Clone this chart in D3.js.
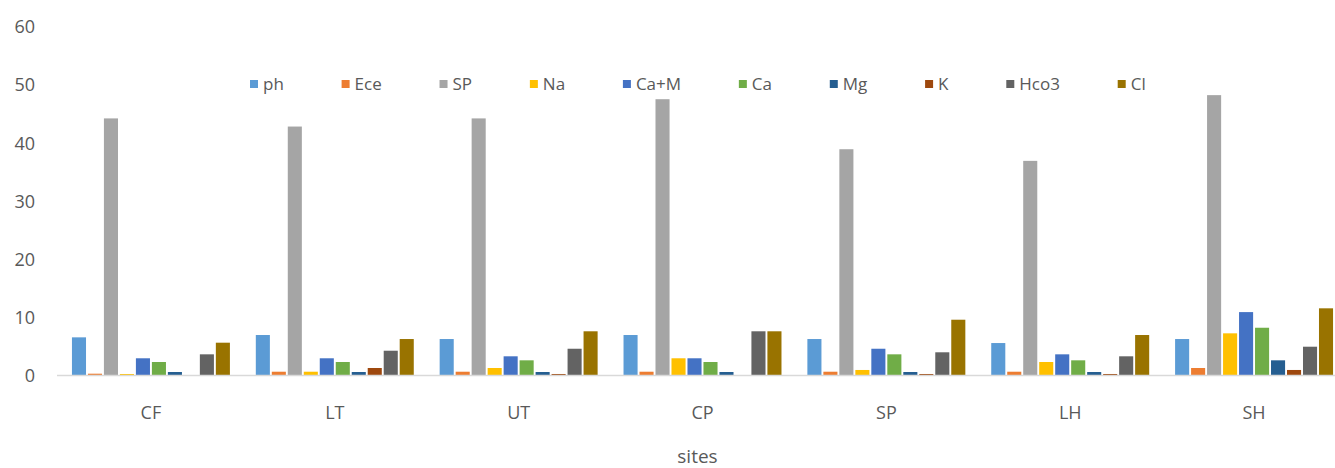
<!DOCTYPE html>
<html>
<head>
<meta charset="utf-8">
<script src="https://cdn.jsdelivr.net/npm/d3@7"></script>
<style>
  html, body { margin: 0; padding: 0; background: #fff; }
  svg { display: block; }
  text { font-family: "Open Sans", "Noto Sans", sans-serif; fill: #595959; }
</style>
</head>
<body>
<svg id="chart" width="1335" height="468"></svg>
<script>
const sites = ["CF", "LT", "UT", "CP", "SP", "LH", "SH"];
const seriesNames = ["ph", "Ece", "SP", "Na", "Ca+M", "Ca", "Mg", "K", "Hco3", "Cl"];
const seriesColors = ["#5B9BD5", "#ED7D31", "#A5A5A5", "#FFC000", "#4472C4", "#70AD47", "#255E91", "#9E480E", "#636363", "#997300"];

const ph   = [6.56, 6.96, 6.27, 6.96, 6.27, 5.58, 6.27];
const Ece  = [0.31, 0.65, 0.65, 0.65, 0.65, 0.65, 1.29];
const SP   = [44.2, 42.8, 44.2, 47.5, 38.9, 36.9, 48.2];
const Na   = [0.26, 0.65, 1.29, 2.96, 0.95, 2.32, 7.25];
const CaM  = [2.96, 2.96, 3.30, 2.96, 4.60, 3.64, 10.9];
const Ca   = [2.32, 2.32, 2.61, 2.32, 3.64, 2.61, 8.21];
const Mg   = [0.60, 0.60, 0.60, 0.60, 0.60, 0.60, 2.61];
const K    = [0.00, 1.29, 0.26, 0.00, 0.26, 0.26, 0.95];
const Hco3 = [3.64, 4.26, 4.60, 7.60, 3.99, 3.30, 4.95];
const Cl   = [5.64, 6.27, 7.60, 7.60, 9.59, 6.96, 11.55];

const yTicks = [0, 10, 20, 30, 40, 50, 60];
const xTitle = "sites";

const seriesValues = [ph, Ece, SP, Na, CaM, Ca, Mg, K, Hco3, Cl];

const svg = d3.select("#chart");

const plotLeft = 59, plotRight = 1346;
const yTop = 26.5, yBottom = 375.5;

const x0 = d3.scaleBand().domain(sites).range([plotLeft, plotRight]).paddingInner(0).paddingOuter(0);
const groupPad = x0.bandwidth() * 0.75 / 11.5;
const x1 = d3.scaleBand().domain(seriesNames)
  .range([groupPad, x0.bandwidth() - groupPad])
  .paddingInner(0.12).paddingOuter(0.06);
const y = d3.scaleLinear().domain([0, 60]).range([yBottom, yTop]);
const color = d3.scaleOrdinal().domain(seriesNames).range(seriesColors);

// Y axis (labels only)
const yAxis = d3.axisLeft(y).tickValues(yTicks).tickSize(0).tickPadding(0).tickFormat(d3.format("d"));
const yg = svg.append("g").attr("transform", "translate(35,0)").call(yAxis);
yg.select(".domain").remove();
yg.selectAll("text").style("font-size", "18px").attr("fill", "#595959").attr("dy", "0.35em");

// Bars
const groups = svg.append("g").selectAll("g")
  .data(sites.map((s, i) => ({ site: s, idx: i })))
  .join("g")
  .attr("transform", d => `translate(${x0(d.site)},0)`);

groups.selectAll("rect")
  .data(d => seriesNames.map((n, k) => ({ name: n, value: seriesValues[k][d.idx] })))
  .join("rect")
  .attr("x", d => x1(d.name))
  .attr("width", x1.bandwidth())
  .attr("y", d => y(d.value))
  .attr("height", d => y(0) - y(d.value))
  .attr("fill", d => color(d.name));

// X axis
const xAxis = d3.axisBottom(x0).tickSize(0).tickPadding(0);
const xg = svg.append("g").attr("transform", `translate(0,${yBottom})`).call(xAxis);
xg.select(".domain").attr("stroke", "#D9D9D9").attr("stroke-width", 1.5).attr("d", `M${plotLeft - 2},0H${plotRight}`);
xg.selectAll("text").style("font-size", "18px").attr("fill", "#595959").attr("dy", "0").attr("y", 43);

// Axis title
svg.append("text")
  .attr("x", (plotLeft + plotRight) / 2 - 5)
  .attr("y", 463)
  .attr("text-anchor", "middle")
  .style("font-size", "19px")
  .attr("fill", "#404040")
  .text(xTitle);

// Legend
const legend = svg.append("g");
const legendStart = 250, legendLastSquare = 1117.7, sq = 8, sqGap = 5, legendY = 84;
const items = legend.selectAll("g").data(seriesNames).join("g");
items.append("rect").attr("width", sq).attr("height", sq).attr("y", legendY - sq / 2)
  .attr("fill", d => color(d));
items.append("text").attr("x", sq + sqGap).attr("y", legendY).attr("dy", "0.36em")
  .style("font-size", "17px").attr("fill", "#595959").text(d => d);
const widths = [];
items.each(function () {
  widths.push(sq + sqGap + d3.select(this).select("text").node().getComputedTextLength());
});
const sumFirst = d3.sum(widths.slice(0, widths.length - 1));
const gap = (legendLastSquare - legendStart - sumFirst) / (widths.length - 1);
let cx = legendStart;
items.each(function (d, i) {
  d3.select(this).attr("transform", `translate(${cx},0)`);
  cx += widths[i] + gap;
});
</script>
</body>
</html>
